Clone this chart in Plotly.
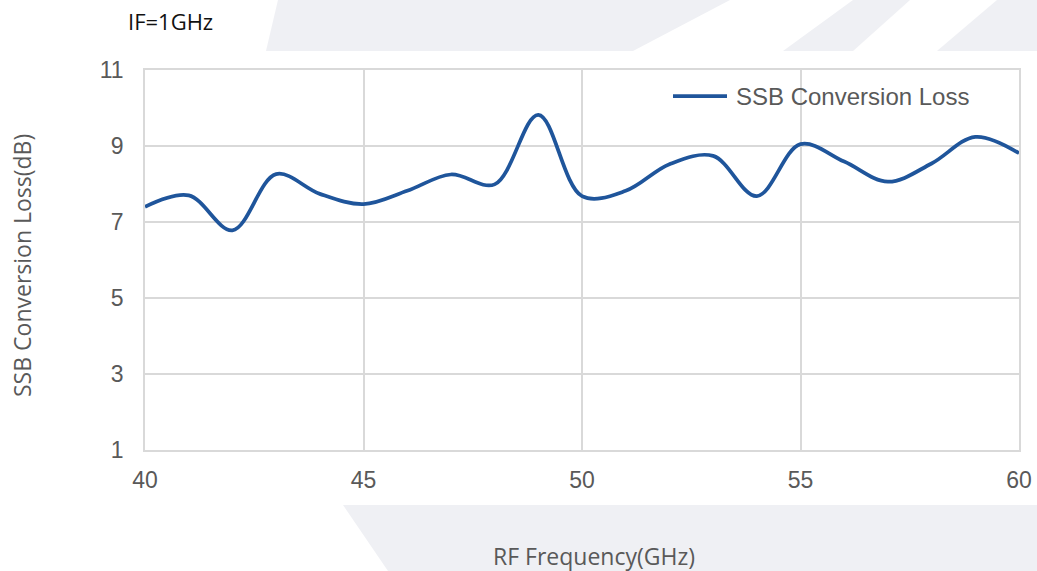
import plotly.graph_objects as go

# ---- data ----
freq_ghz = [40, 41, 42, 43, 44, 45, 46, 47, 48, 49, 50,
            51, 52, 53, 54, 55, 56, 57, 58, 59, 60]
ssb_loss_db = [7.40, 7.70, 6.78, 8.26, 7.74, 7.47, 7.82, 8.25, 7.99, 9.82, 7.68,
               7.82, 8.52, 8.74, 7.68, 9.05, 8.59, 8.06, 8.54, 9.24, 8.81]
x_ticks = [40, 45, 50, 55, 60]
y_ticks = [1, 3, 5, 7, 9, 11]
series_name = "SSB Conversion Loss"
note_text = "IF=1GHz"
x_title = "RF Frequency(GHz)"
y_title = "SSB Conversion Loss(dB)"

# ---- layout geometry (pixels) ----
W, H = 1037, 571
L, R, T, B = 145, 1019, 70, 450   # plot area edges


def px(xp):
    return (xp - L) / (R - L)


def py(yp):
    return (B - yp) / (B - T)


def poly(points):
    d = "M " + " L ".join(f"{px(a):.5f},{py(b):.5f}" for a, b in points) + " Z"
    return d


line_color = "#1F559B"

fig = go.Figure()
fig.add_trace(go.Scatter(
    x=freq_ghz, y=ssb_loss_db, name=series_name, mode="lines",
    line=dict(color=line_color, width=3.75, shape="spline", smoothing=1.0),
    showlegend=False,
))

grey = "#EFF0F4"
shapes = []
# watermark bands outside the white chart box
for pts, col in [
    ([(278, 0), (1037, 0), (1037, 51), (266, 51)], grey),
    ([(730, 0), (853, 0), (783, 51), (633, 51)], "white"),
    ([(910, 0), (997, 0), (937, 51), (853, 51)], "white"),
    ([(343, 505), (1037, 505), (1037, 571), (388, 571)], grey),
]:
    shapes.append(dict(type="path", xref="paper", yref="paper", path=poly(pts),
                       fillcolor=col, line=dict(width=0), layer="below"))

# legend key line
shapes.append(dict(type="line", xref="paper", yref="paper",
                   x0=px(673), x1=px(727), y0=py(96), y1=py(96),
                   line=dict(color=line_color, width=3.75)))

tick_font = dict(family="Liberation Sans, Arial", size=23, color="#595959")
title_font = dict(family="Open Sans", size=23, color="#595959")

fig.update_layout(
    width=W, height=H,
    margin=dict(l=L, r=W - R, t=T, b=H - B, autoexpand=False),
    paper_bgcolor="white", plot_bgcolor="white",
    shapes=shapes,
    showlegend=False,
    xaxis=dict(range=[40, 60], tickvals=x_ticks, ticktext=[str(v) for v in x_ticks],
               showgrid=True, gridcolor="#D9D9D9", gridwidth=1.5,
               showline=True, linecolor="#D9D9D9", linewidth=1.5, mirror=True,
               zeroline=False, ticks="", tickfont=tick_font, ticklabelstandoff=9),
    yaxis=dict(range=[1, 11], tickvals=y_ticks, ticktext=[str(v) for v in y_ticks],
               showgrid=True, gridcolor="#D9D9D9", gridwidth=1.5,
               showline=True, linecolor="#D9D9D9", linewidth=1.5, mirror=True,
               zeroline=False, ticks="", tickfont=tick_font, ticklabelstandoff=15),
    annotations=[
        dict(text=series_name, xref="paper", yref="paper", x=px(734), y=py(96),
             xanchor="left", yanchor="middle", showarrow=False,
             font=dict(family="Liberation Sans, Arial", size=24, color="#595959")),
        dict(text=note_text, xref="paper", yref="paper", x=px(170), y=py(21),
             xanchor="center", yanchor="middle", showarrow=False,
             font=dict(family="Open Sans", size=22, color="#111111")),
        dict(text=x_title, xref="paper", yref="paper", x=px(594), y=py(556),
             xanchor="center", yanchor="middle", showarrow=False, font=title_font),
        dict(text=y_title, xref="paper", yref="paper", x=px(22), y=py(266),
             xanchor="center", yanchor="middle", showarrow=False, textangle=-90,
             font=title_font),
    ],
)

fig.write_html("out.html", config={"displayModeBar": False},
               post_script="document.body.style.margin='0';document.body.style.overflow='hidden';")
